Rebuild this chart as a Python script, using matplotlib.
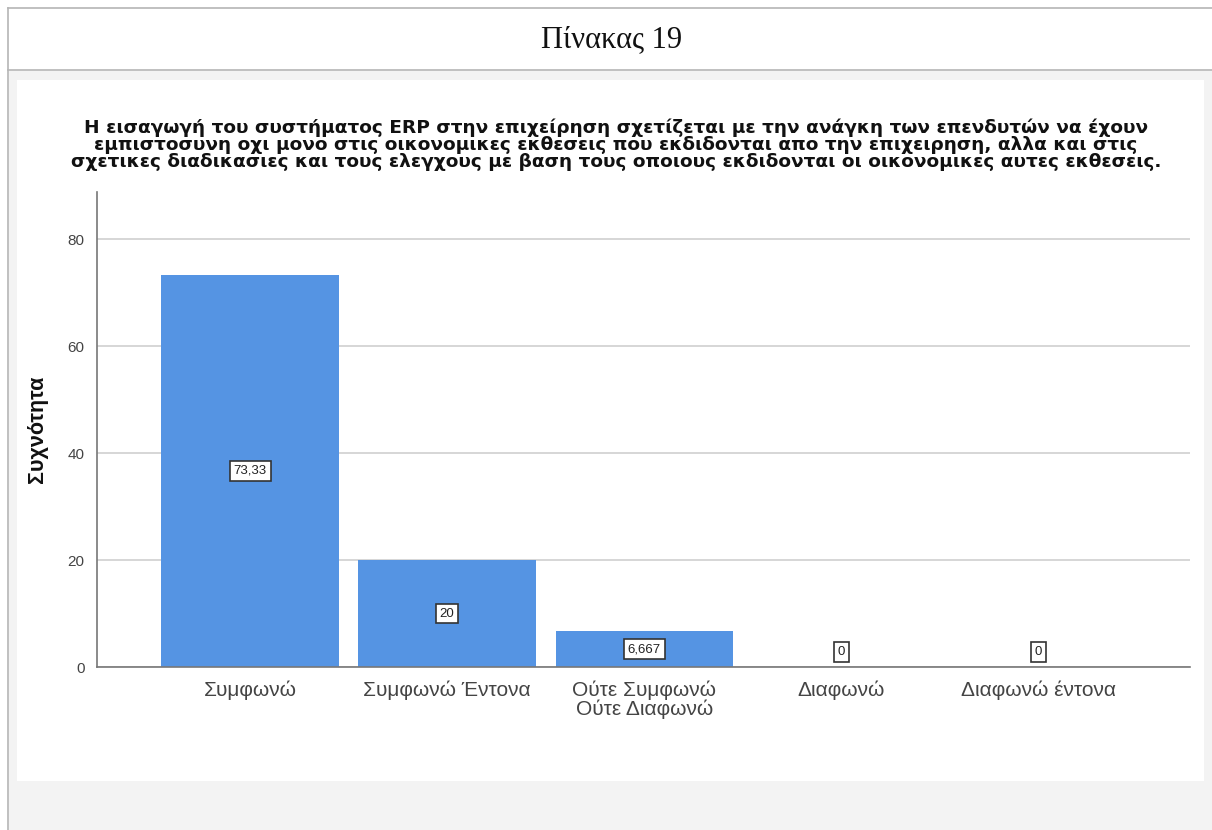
import matplotlib.pyplot as plt
from matplotlib.patches import Rectangle

categories = ["Συμφωνώ", "Συμφωνώ Έντονα", "Ούτε Συμφωνώ\nΟύτε Διαφωνώ", "Διαφωνώ", "Διαφωνώ έντονα"]
values = [73.33, 20, 6.667, 0, 0]
value_labels = ["73,33", "20", "6,667", "0", "0"]
y_ticks = [0, 20, 40, 60, 80]

header = "Πίνακας 19"
title = ("Η εισαγωγή του συστήματος ERP στην επιχείρηση σχετίζεται με την ανάγκη των επενδυτών να έχουν\n"
         "εμπιστοσυνη οχι μονο στις οικονομικες εκθεσεις που εκδιδονται απο την επιχειρηση, αλλα και στις\n"
         "σχετικες διαδικασιες και τους ελεγχους με βαση τους οποιους εκδιδονται οι οικονομικες αυτες εκθεσεις.")

W, H = 1212, 830
fig = plt.figure(figsize=(W / 100, H / 100), dpi=100)
fig.patch.set_facecolor("white")

# page frame: gray panel, white chart area, border lines
fig.add_artist(Rectangle((9 / W, 0), 1 - 9 / W, (H - 71) / H, transform=fig.transFigure,
                         facecolor="#f3f3f3", edgecolor="none", zorder=0))
fig.add_artist(Rectangle((17 / W, (H - 781) / H), (1204 - 17) / W, (781 - 80) / H,
                         transform=fig.transFigure, facecolor="white", edgecolor="none", zorder=0))
for y in (8, 70):
    fig.add_artist(plt.Line2D([8 / W, 1], [(H - y) / H] * 2, transform=fig.transFigure,
                              color="#b5b5b5", lw=1.2))
fig.add_artist(plt.Line2D([8 / W] * 2, [0, (H - 8) / H], transform=fig.transFigure,
                          color="#b5b5b5", lw=1.2))

fig.text(612 / W, (H - 40) / H, header, ha="center", va="center",
         family="Liberation Serif", fontsize=22, color="#111111")
fig.text(616 / W, (H - 145) / H, title, ha="center", va="center", family="DejaVu Sans",
         fontweight="bold", fontsize=13.3, color="#111111", linespacing=0.93)

ax = fig.add_axes([97 / W, (H - 667) / H, (1190 - 97) / W, (667 - 192) / H])
ax.set_facecolor("white")
x = range(len(categories))
ax.bar(x, values, width=0.9, color="#5594e3", zorder=2)
for xi, v, lab in zip(x, values, value_labels):
    ax.text(xi, v / 2 if v > 0 else 2.8, lab, ha="center", va="center", fontsize=9.5,
            family="Liberation Sans", color="#222222", zorder=3,
            bbox=dict(boxstyle="square,pad=0.3", facecolor="white", edgecolor="#333333", lw=1.2))

ax.set_xlim(-0.777, 4.77)
ax.set_ylim(0, 88.8)
ax.set_yticks(y_ticks)
ax.set_xticks(list(x))
ax.set_xticklabels(categories, fontsize=15, family="Liberation Sans", color="#444444",
                   linespacing=0.95)
for t in ax.get_yticklabels():
    t.set_fontsize(11)
    t.set_color("#444444")
    t.set_family("Liberation Sans")
ax.tick_params(axis="y", length=0, pad=9)
ax.tick_params(axis="x", length=0, pad=10)
ax.grid(axis="y", color="#d0d0d0", lw=1.2, zorder=1)
for s in ("top", "right"):
    ax.spines[s].set_visible(False)
for s in ("left", "bottom"):
    ax.spines[s].set_color("#777777")
    ax.spines[s].set_linewidth(1.2)
ax.set_ylabel("Συχνότητα", fontsize=15.5, fontweight="bold", family="Liberation Sans",
              color="#111111", labelpad=14)

fig.savefig("out.png", dpi=100)
